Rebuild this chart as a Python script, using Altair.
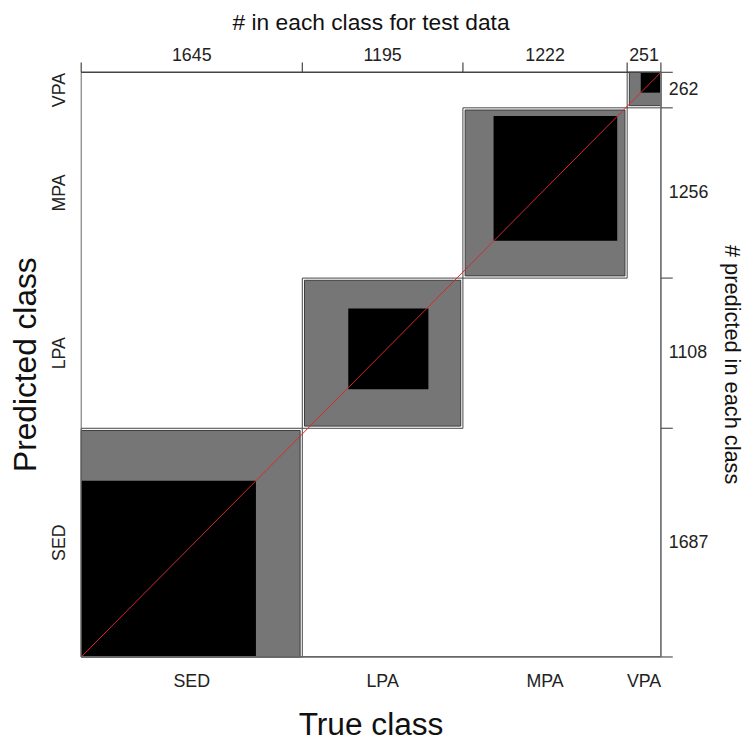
import altair as alt
import pandas as pd

classes = ["SED", "LPA", "MPA", "VPA"]
# confusion matrix: rows = predicted class, columns = true class
conf = [
    [1300, 342, 30, 15],   # predicted SED
    [288, 596, 198, 26],   # predicted LPA
    [49, 227, 920, 60],    # predicted MPA
    [8, 30, 74, 150],      # predicted VPA
]

n = len(classes)
true_tot = [sum(conf[i][j] for i in range(n)) for j in range(n)]
pred_tot = [sum(conf[i][j] for j in range(n)) for i in range(n)]
total = sum(true_tot)

cum_t = [0]
for v in true_tot:
    cum_t.append(cum_t[-1] + v)
cum_p = [0]
for v in pred_tot:
    cum_p.append(cum_p[-1] + v)

W, H = 586, 591
INSET = 2.2  # px gap between cell outline and grey box on interior sides
ix = INSET * total / W
iy = INSET * total / H

rows = []
for k in range(n):
    xs = cum_t[k] + sum(conf[i][k] for i in range(k))
    ys = cum_p[k] + sum(conf[k][j] for j in range(k))
    rows.append({
        "cls": classes[k],
        "cx0": cum_t[k], "cx1": cum_t[k + 1],
        "cy0": cum_p[k], "cy1": cum_p[k + 1],
        "gx0": cum_t[k] + (ix if cum_t[k] > 0 else 0),
        "gx1": cum_t[k + 1] - (ix if cum_t[k + 1] < total else 0),
        "gy0": cum_p[k] + (iy if cum_p[k] > 0 else 0),
        "gy1": cum_p[k + 1] - (iy if cum_p[k + 1] < total else 0),
        "bx0": xs, "bx1": xs + conf[k][k],
        "by0": ys, "by1": ys + conf[k][k],
        "xmid": (cum_t[k] + cum_t[k + 1]) / 2,
        "ymid": (cum_p[k] + cum_p[k + 1]) / 2,
        "ntrue": str(true_tot[k]),
        "npred": str(pred_tot[k]),
    })
df = pd.DataFrame(rows)
tb = pd.DataFrame({"b": cum_t})
rb = pd.DataFrame({"b": cum_p})
diag = pd.DataFrame({"x": [0], "y": [0], "x2": [total], "y2": [total]})

FONT = "Liberation Sans"
xs_ = alt.Scale(domain=[0, total], nice=False, zero=False)
ys_ = alt.Scale(domain=[0, total], nice=False, zero=False)

base = alt.Chart(df)

cell = base.mark_rect(fill="#ffffff", stroke="#444444", strokeWidth=1).encode(
    x=alt.X("cx0:Q", scale=xs_, axis=None), x2="cx1",
    y=alt.Y("cy0:Q", scale=ys_, axis=None), y2="cy1")

gray = base.mark_rect(fill="#767676", stroke="#3a3a3a", strokeWidth=1).encode(
    x=alt.X("gx0:Q", scale=xs_, axis=None), x2="gx1",
    y=alt.Y("gy0:Q", scale=ys_, axis=None), y2="gy1")

black = base.mark_rect(fill="#000000").encode(
    x=alt.X("bx0:Q", scale=xs_, axis=None), x2="bx1",
    y=alt.Y("by0:Q", scale=ys_, axis=None), y2="by1")

red = alt.Chart(diag).mark_rule(color="#d42a2a", strokeWidth=1).encode(
    x=alt.X("x:Q", scale=xs_, axis=None), x2="x2",
    y=alt.Y("y:Q", scale=ys_, axis=None), y2="y2")

frame_top = alt.Chart(diag).mark_rule(color="#444444", strokeWidth=1.5).encode(
    x=alt.value(0), x2=alt.value(W), y=alt.value(0))
frame_bot = alt.Chart(diag).mark_rule(color="#666666", strokeWidth=1.8).encode(
    x=alt.value(0), x2=alt.value(W), y=alt.value(H))
frame_left = alt.Chart(diag).mark_rule(color="#666666", strokeWidth=1).encode(
    x=alt.value(0), y=alt.value(0), y2=alt.value(H))
frame_right = alt.Chart(diag).mark_rule(color="#777777", strokeWidth=1.8).encode(
    x=alt.value(W), y=alt.value(0), y2=alt.value(H))

top_ticks = alt.Chart(tb).mark_rule(color="#444444", strokeWidth=1.2).encode(
    x=alt.X("b:Q", scale=xs_, axis=None), y=alt.value(0), y2=alt.value(-10))
right_ticks = alt.Chart(rb).mark_rule(color="#555555", strokeWidth=1.2).encode(
    y=alt.Y("b:Q", scale=ys_, axis=None), x=alt.value(W), x2=alt.value(W + 12))

LBL = 18
top_lab = base.mark_text(font=FONT, fontSize=LBL, color="#222222", baseline="middle").encode(
    x=alt.X("xmid:Q", scale=xs_, axis=None), y=alt.value(-16), text="ntrue:N")
right_lab = base.mark_text(font=FONT, fontSize=LBL, color="#222222", align="left",
                           baseline="middle").encode(
    y=alt.Y("ymid:Q", scale=ys_, axis=None), x=alt.value(W + 8), text="npred:N")
left_lab = base.mark_text(font=FONT, fontSize=LBL, color="#222222", angle=270,
                          baseline="middle").encode(
    y=alt.Y("ymid:Q", scale=ys_, axis=None), x=alt.value(-21), text="cls:N")
bot_lab = base.mark_text(font=FONT, fontSize=LBL, color="#222222", baseline="middle").encode(
    x=alt.X("xmid:Q", scale=xs_, axis=None), y=alt.value(H + 25), text="cls:N")

def title_text(txt, x, y, size, angle=0):
    return alt.Chart(diag).mark_text(font=FONT, fontSize=size, color="#111111",
                                     angle=angle, baseline="middle", text=txt).encode(
        x=alt.value(x), y=alt.value(y))

t_top = title_text("# in each class for test data", W / 2, -50, 23)
t_bot = title_text("True class", W / 2, H + 69, 32)
t_left = title_text("Predicted class", -56, H / 2, 32, angle=270)
t_right = title_text("# predicted in each class", W + 72, H / 2, 22, angle=90)

chart = alt.layer(
    cell, gray, black, red, frame_left, frame_top, frame_bot, frame_right,
    top_ticks, right_ticks, top_lab, right_lab, left_lab, bot_lab,
    t_top, t_bot, t_left, t_right,
).properties(
    width=W, height=H,
    padding={"left": 74, "top": 61, "right": 84, "bottom": 88},
    autosize=alt.AutoSizeParams(type="none"),
).configure_view(stroke=None)

chart.save("out.html", embed_options={"renderer": "svg", "actions": False})
